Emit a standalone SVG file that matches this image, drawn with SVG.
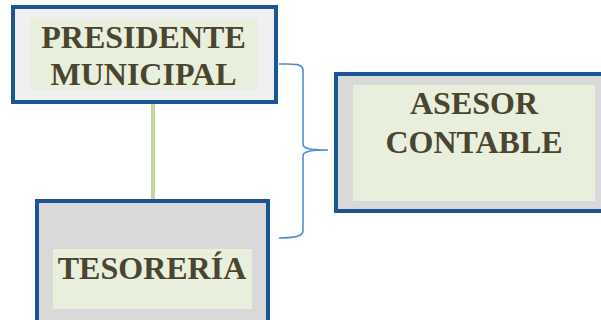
<svg xmlns="http://www.w3.org/2000/svg" width="601" height="320" viewBox="0 0 601 320">
<style>
.box{stroke:#1b5596;stroke-width:4}
.inner{fill:#e8efdd}
.t{font-family:"Liberation Serif","Times New Roman",serif;font-weight:bold;font-size:32px;fill:#4b4530;text-anchor:middle}
</style>
<rect width="601" height="320" fill="#ffffff"/>
<g id="connectors">
<line x1="153" y1="103" x2="153" y2="199" stroke="#c4d89e" stroke-width="4"/>
<path d="M279,64 C292,64 303,63 303,70 L303,144 C303,148 308,150 328,150 C308,150 303,152 303,156 L303,231 C303,237 292,238 279,238" fill="none" stroke="#4a8fd4" stroke-width="1.6"/>
</g>
<g id="presidente">
<rect class="box" x="13" y="7" width="263" height="95" fill="#f0f0f0"/>
<rect class="inner" x="30" y="19" width="228" height="71"/>
<text class="t" x="143.5" y="48">PRESIDENTE</text>
<text class="t" x="143.5" y="85">MUNICIPAL</text>
</g>
<g id="tesoreria">
<rect class="box" x="37" y="201" width="231" height="125" fill="#d9d9d9"/>
<rect class="inner" x="53" y="249" width="199" height="60"/>
<text class="t" x="152" y="279">TESORERÍA</text>
</g>
<g id="asesor">
<rect class="box" x="336" y="74" width="268" height="137" fill="#d9d9d9"/>
<rect class="inner" x="353" y="85" width="242" height="116"/>
<text class="t" x="474" y="114">ASESOR</text>
<text class="t" x="474" y="153">CONTABLE</text>
</g>
</svg>
